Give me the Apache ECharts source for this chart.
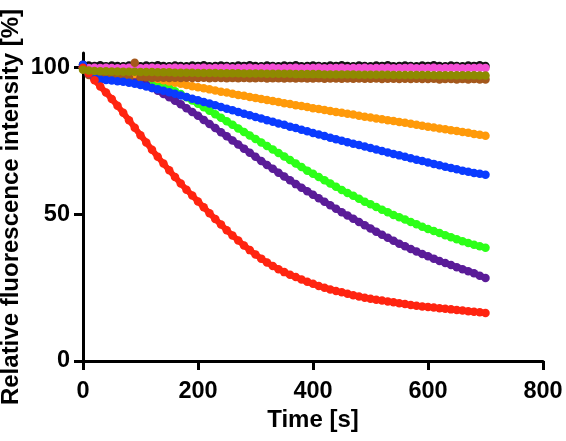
<!DOCTYPE html>
<html><head><meta charset="utf-8">
<script src="https://cdn.jsdelivr.net/npm/echarts@6/dist/echarts.min.js"></script>
<style>html,body{margin:0;padding:0;background:#fff}#c{width:566px;height:441px}</style>
</head><body><div id="c"></div>
<script>
// time points (s), one every 10 s from 0 to 700
const times = [0,10,20,30,40,50,60,70,80,90,100,110,120,130,140,150,160,170,180,190,200,210,220,230,240,250,260,270,280,290,300,310,320,330,340,350,360,370,380,390,400,410,420,430,440,450,460,470,480,490,500,510,520,530,540,550,560,570,580,590,600,610,620,630,640,650,660,670,680,690,700];
const xTicks = [0,200,400,600,800];
const yTicks = [0,50,100];

const blackVals = [101,100.7,100.6,100.8,100.5,100.7,100.6,100.5,100.7,100.6,
100.5,100.7,100.6,100.8,100.6,100.5,100.7,100.6,100.5,100.7,
100.6,100.8,100.5,100.6,100.7,100.6,100.5,100.7,100.6,100.8,
100.6,100.5,100.7,100.6,100.5,100.7,100.6,100.8,100.5,100.6,
100.7,100.6,100.5,100.7,100.6,100.8,100.6,100.5,100.7,100.6,
100.5,100.7,100.6,100.8,100.5,100.6,100.7,100.6,100.5,100.7,
100.6,100.8,100.6,100.5,100.7,100.6,100.5,100.7,100.6,100.8,
100.6];
const brownVals = [100,97.5,96.9,96.8,96.7,96.8,96.6,96.7,96.6,101.7,
96.6,96.7,96.5,96.6,96.6,96.5,96.6,96.5,96.6,96.5,
96.5,96.6,96.4,96.5,96.5,96.4,96.5,96.4,96.5,96.4,
96.4,96.5,96.3,96.4,96.4,96.3,96.4,96.3,96.4,96.3,
96.3,96.4,96.2,96.3,96.3,96.2,96.3,96.2,96.3,96.2,
96.2,96.3,96.1,96.2,96.2,96.1,96.2,96.1,96.2,96.1,
96.1,96.2,96.0,96.1,96.1,96.0,96.1,96.0,96.1,96.0,
96.0];
const pinkVals = [100.2,99.9,100,99.9,100,99.9,99.8,99.9,100,99.9,
99.8,99.9,100,99.9,99.8,99.9,100,99.9,99.8,99.9,
99.9,100,99.8,99.9,99.9,100,99.8,99.9,99.9,100,
99.8,99.9,99.9,100,99.8,99.9,99.9,100,99.8,99.9,
99.9,100,99.8,99.9,99.9,100,99.8,99.9,99.9,100,
99.8,99.9,99.9,100,99.8,99.9,99.9,100,99.8,99.9,
99.9,100,99.8,99.9,99.9,100,99.8,99.9,99.9,100,
99.9];
const oliveVals = [99.3,99,98.9,98.8,98.8,98.7,98.7,98.6,98.6,98.6,
98.5,98.5,98.5,98.4,98.4,98.4,98.3,98.3,98.3,98.3,
98.2,98.2,98.2,98.2,98.1,98.1,98.1,98.1,98.0,98.0,
98.0,98.0,97.9,97.9,97.9,97.9,97.9,97.8,97.8,97.8,
97.8,97.8,97.7,97.7,97.7,97.7,97.7,97.7,97.6,97.6,
97.6,97.6,97.6,97.6,97.5,97.5,97.5,97.5,97.5,97.5,
97.5,97.4,97.4,97.4,97.4,97.4,97.4,97.4,97.4,97.3,
97.3];
const orangeVals = [100,99.9,99.8,99.6,99.4,99.1,98.8,98.5,98.1,97.8,
97.4,97,96.6,96.1,95.7,95.3,94.9,94.5,94.1,93.7,
93.3,93,92.6,92.2,91.8,91.5,91.1,90.7,90.4,90,
89.7,89.3,89,88.6,88.3,87.9,87.6,87.2,86.9,86.6,
86.2,85.9,85.6,85.2,84.9,84.6,84.3,84,83.6,83.3,
83,82.7,82.4,82.1,81.8,81.5,81.2,80.9,80.5,80.2,
79.9,79.6,79.3,79,78.7,78.4,78.1,77.8,77.4,77.1,
76.8];
const purpleVals = [100,99.9,99.7,99.4,99,98.5,97.9,97.3,96.6,95.8,
95,94.1,93.1,92.1,91,89.9,88.7,87.5,86.2,84.9,
83.6,82.2,80.8,79.4,78,76.6,75.2,73.8,72.4,71,
69.6,68.2,66.8,65.5,64.2,62.9,61.6,60.3,59.1,57.9,
56.7,55.5,54.3,53.1,51.9,50.7,49.6,48.5,47.4,46.3,
45.2,44.1,43,42,41,40,39.1,38.2,37.3,36.5,
35.7,34.9,34.1,33.4,32.7,32,31.3,30.6,29.9,29.1,
28.3];
const greenVals = [100,100,99.9,99.8,99.6,99.3,99,98.6,98.1,97.6,
97,96.3,95.6,94.8,93.9,93,92,91,89.9,88.8,
87.7,86.5,85.3,84.1,82.9,81.7,80.5,79.3,78.1,76.9,
75.7,74.5,73.3,72.1,70.9,69.7,68.5,67.3,66.1,64.9,
63.8,62.7,61.6,60.5,59.4,58.3,57.3,56.3,55.3,54.3,
53.4,52.5,51.6,50.7,49.8,49,48.2,47.4,46.6,45.8,
45,44.3,43.6,42.9,42.2,41.5,40.8,40.2,39.6,39.1,
38.6];
const blueVals = [101,98,96.6,96,95.8,95.6,95.4,95.2,94.9,94.5,
94.1,93.6,93.1,92.6,92.1,91.6,91.1,90.5,90,89.4,
88.9,88.3,87.8,87.2,86.6,86,85.5,84.9,84.3,83.8,
83.2,82.7,82.1,81.6,81,80.5,79.9,79.4,78.8,78.3,
77.7,77.2,76.7,76.1,75.6,75.1,74.6,74.1,73.6,73.1,
72.6,72.1,71.6,71.1,70.6,70.1,69.6,69.1,68.6,68.2,
67.7,67.2,66.7,66.2,65.8,65.4,64.9,64.5,64.1,63.8,
63.5];
const redVals = [100,98,95.7,93.6,91.5,89.3,87,84.6,82.1,79.5,
77,74.5,72,69.6,67.3,65,62.7,60.5,58.4,56.4,
54.4,52.4,50.4,48.4,46.5,44.6,42.8,41.1,39.4,37.8,
36.3,34.9,33.6,32.4,31.3,30.3,29.4,28.6,27.8,27,
26.3,25.6,25,24.4,23.9,23.4,22.9,22.4,22,21.6,
21.2,20.9,20.6,20.3,20,19.7,19.4,19.1,18.8,18.6,
18.4,18.2,18,17.8,17.6,17.4,17.2,17,16.8,16.6,
16.4];

// drawing order: first entries are underneath
const seriesDefs = [
  ['green', greenVals, '#2cff18'],
  ['purple', purpleVals, '#5a1c98'],
  ['orange', orangeVals, '#ff9a0a'],
  ['black', blackVals, '#111111'],
  ['pink', pinkVals, '#f54fd6'],
  ['brown', brownVals, '#a4581c'],
  ['blue', blueVals, '#0a3bff'],
  ['red', redVals, '#ff2410'],
  ['olive', oliveVals, '#8e8a00']
];

const chart = echarts.init(document.getElementById('c'), null, {renderer: 'canvas'});
const FONT = 'Liberation Sans, Arial, sans-serif';
chart.setOption({
  animation: false,
  backgroundColor: '#fff',
  grid: {left: 83, right: 23, top: 53, bottom: 80, containLabel: false, outerBoundsMode: 'none'},
  xAxis: {
    type: 'value', min: 0, max: 800, interval: 200,
    name: 'Time [s]', nameLocation: 'middle', nameGap: 47, nameMoveOverlap: false,
    nameTextStyle: {fontFamily: FONT, fontWeight: 'bold', fontSize: 24, color: '#000'},
    axisLine: {show: true, onZero: false, lineStyle: {color: '#000', width: 3}},
    axisTick: {show: true, length: 9, lineStyle: {color: '#000', width: 3}, customValues: xTicks},
    axisLabel: {fontFamily: FONT, fontWeight: 'bold', fontSize: 23.5, color: '#000', margin: 19, customValues: xTicks},
    splitLine: {show: false}
  },
  yAxis: {
    type: 'value', min: 0, max: 105,
    name: 'Relative fluorescence intensity [%]', nameLocation: 'middle', nameGap: 60, nameMoveOverlap: false,
    nameTextStyle: {fontFamily: FONT, fontWeight: 'bold', fontSize: 24, color: '#000'},
    axisLine: {show: true, onZero: false, lineStyle: {color: '#000', width: 3}},
    axisTick: {show: true, length: 9, lineStyle: {color: '#000', width: 3}, customValues: yTicks},
    axisLabel: {fontFamily: FONT, fontWeight: 'bold', fontSize: 23.5, color: '#000', margin: 13, customValues: yTicks},
    splitLine: {show: false}
  },
  series: seriesDefs.map(([name, vals, color]) => ({
    name: name, type: 'line', symbol: 'circle', symbolSize: 8.5, showSymbol: true,
    lineStyle: {color: color, width: 6},
    itemStyle: {color: color, opacity: 1, borderWidth: 0},
    emphasis: {disabled: true},
    data: times.map((t, i) => [t, vals[i]])
  }))
});
</script></body></html>
